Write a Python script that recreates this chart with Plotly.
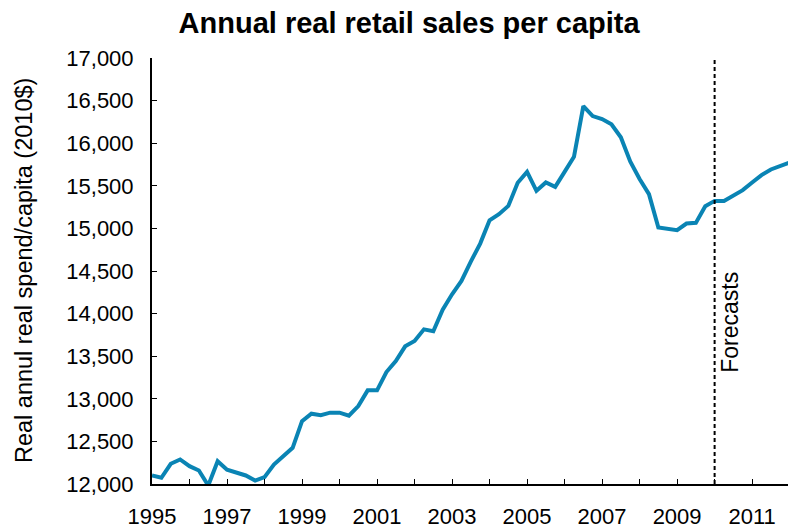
import pandas as pd
import plotly.graph_objects as go

# quarterly observations, 1995Q1 .. 2012Q1
start_year = 1995
sales = [12100, 12073, 12237, 12288, 12209, 12159, 11982, 12268,
         12167, 12132, 12100, 12041, 12080, 12229, 12335, 12425,
         12738, 12825, 12808, 12837, 12837, 12801, 12914, 13099,
         13099, 13314, 13443, 13616, 13678, 13815, 13792, 14047,
         14227, 14383, 14610, 14822, 15096, 15167, 15264, 15535,
         15664, 15441, 15539, 15488, 15664, 15840, 16436, 16318,
         16283, 16221, 16070, 15785, 15580, 15402, 15011, 14994,
         14979, 15057, 15065, 15261, 15323, 15323, 15390, 15449,
         15539, 15625, 15692, 15734, 15774]
forecast_start = 2010
forecast_label = 'Forecasts'
year_ticks = list(range(1995, 2012, 2))

df = pd.DataFrame({'value': sales})
df['t'] = start_year + df.index / 4

fig = go.Figure()
fig.add_trace(go.Scatter(x=df['t'], y=df['value'], mode='lines',
                         line=dict(color='#0A84B4', width=4), showlegend=False))

fig.add_shape(type='line', xref='x', yref='paper', x0=forecast_start, x1=forecast_start, y0=0, y1=1,
              line=dict(color='black', width=2, dash='4px,3px'))
fig.add_annotation(x=forecast_start, y=0.38, xref='x', yref='paper', text=forecast_label,
                   textangle=-90, showarrow=False, xanchor='left', xshift=1,
                   font=dict(size=23, color='black'))
fig.add_annotation(x=-0.222, y=0.5, xref='paper', yref='paper', text='Real annul real spend/capita (2010$)',
                   textangle=-90, showarrow=False, font=dict(size=23.5, color='black'))

# page has an 8px body margin, so the figure is 16px smaller than the window
fig.update_layout(
    width=788, height=521,
    title=dict(text='<b>Annual real retail sales per capita</b>', x=0.509, xanchor='center',
               y=0.971, yanchor='middle', font=dict(size=29, color='black')),
    font=dict(family='Liberation Sans, Arial', color='black'),
    plot_bgcolor='white', paper_bgcolor='white',
    margin=dict(l=144, r=0, t=50, b=40),
    xaxis=dict(range=[1995, 2012.17], tickvals=year_ticks, ticks='inside', ticklen=5, tickcolor='black',
               showline=True, linecolor='black', linewidth=2, showgrid=False, zeroline=False,
               tickfont=dict(size=22), ticklabelstandoff=12,
               minor=dict(dtick=1, tick0=1995, ticks='inside', ticklen=5, tickcolor='black', showgrid=False)),
    yaxis=dict(range=[12000, 17000], dtick=500, tickformat=',', ticks='inside', ticklen=5, tickcolor='black',
               showline=True, linecolor='black', linewidth=2, showgrid=False, zeroline=False,
               tickfont=dict(size=22), ticklabelstandoff=12),
)

fig.write_html('out.html')
